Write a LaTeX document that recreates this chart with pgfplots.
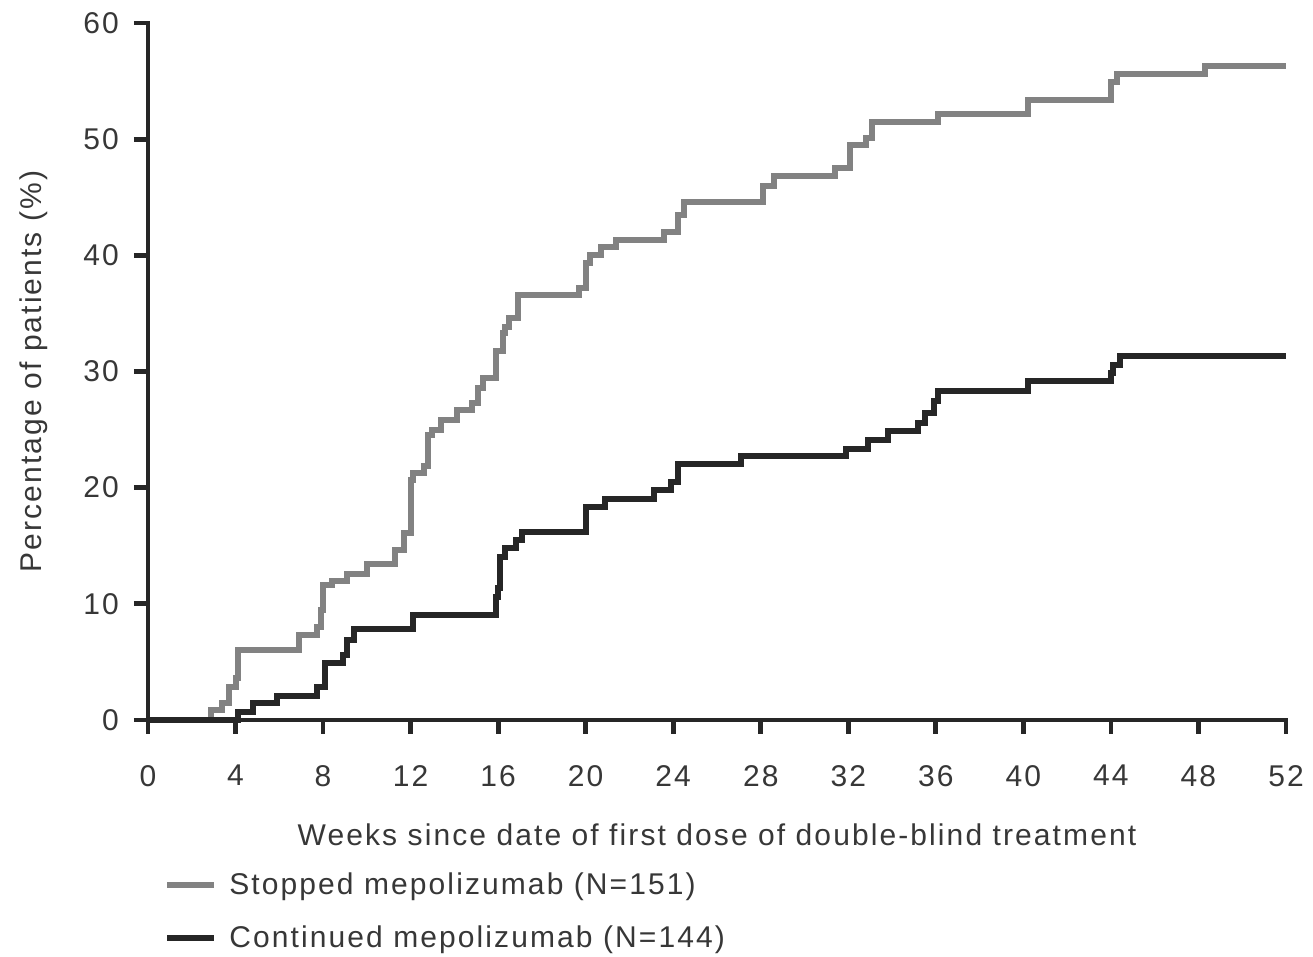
\documentclass[border=0pt]{standalone}
\usepackage{pgfplots}
\pgfplotsset{compat=1.18}
\usepackage{fontspec}
\setmainfont{Liberation Sans}[LetterSpace=7]
\usetikzlibrary{calc}
\definecolor{txt}{RGB}{55,55,55}
\definecolor{axc}{RGB}{38,38,38}
\definecolor{grayline}{RGB}{130,130,130}
\definecolor{blackline}{RGB}{38,38,38}
\begin{document}
\begin{tikzpicture}
\begin{axis}[
  name=ax,
  scale only axis,
  width=569pt, height=348.5pt,
  xmin=0, xmax=52, ymin=0, ymax=60,
  axis x line*=bottom, axis y line*=left,
  axis line style={line width=2.4pt, color=axc, line cap=rect},
  xtick={0,4,...,52}, ytick={0,10,...,60},
  tick align=outside,
  major tick length=7pt,
  tick style={line width=2.4pt, color=axc},
  tick label style={font=\fontsize{15}{18}\selectfont, color=txt},
  /pgf/number format/assume math mode=true,
  xticklabel style={yshift=-12pt},
  yticklabel style={xshift=-4pt},
  xlabel={Weeks since date of first dose of double-blind treatment},
  ylabel={Percentage of patients (\%)},
  label style={font=\fontsize{15}{18}\selectfont, color=txt},
  xlabel style={yshift=-12pt},
  ylabel style={yshift=11pt},
  clip=false,
  legend style={at={(0.0085,-0.207)}, anchor=north west, draw=none, fill=none,
    font=\fontsize{15}{18}\selectfont, text=txt, row sep=10pt,
    legend cell align=left},
  legend image code/.code={\draw[#1,const plot=false] (0cm,0cm) -- (0.83cm,0cm); \path (0.83cm+4pt,0cm);},
]
\addplot[const plot mark left, color=grayline, line width=3pt] coordinates {
(0,0) (2.9,0.9) (3.4,1.5) (3.7,2.8) (4.0,3.6) (4.1,6.0) (6.9,7.3) (7.7,8.0)
(7.9,9.5) (8.0,11.6) (8.4,12.0) (9.1,12.6) (10.0,13.4) (11.3,14.6) (11.7,16.1)
(12.0,20.7) (12.1,21.3) (12.6,21.9) (12.8,24.5) (13.0,25.0) (13.4,25.8)
(14.1,26.7) (14.8,27.3) (15.1,28.6) (15.3,29.4) (15.9,31.8) (16.2,33.3)
(16.3,33.8) (16.5,34.6) (16.9,36.6) (19.7,37.2) (20.0,39.3) (20.2,40.0)
(20.7,40.7) (21.4,41.3) (23.6,42.0) (24.2,43.5) (24.5,44.6) (28.1,46.0)
(28.6,46.8) (31.4,47.5) (32.1,49.5) (32.8,50.1) (33.1,51.5) (36.1,52.2)
(40.2,53.4) (44.0,54.9) (44.3,55.6) (48.3,56.3) (52,56.3)
};
\addlegendentry{Stopped mepolizumab (N=151)}
\addplot[const plot mark left, color=blackline, line width=3pt] coordinates {
(0,0) (4.1,0.7) (4.8,1.5) (5.9,2.1) (7.7,2.8) (8.1,4.9) (8.9,5.6) (9.1,6.9)
(9.4,7.8) (12.1,9.0) (15.9,10.6) (16.0,11.4) (16.1,14.0) (16.3,14.8)
(16.8,15.5) (17.1,16.2) (20.0,18.3) (20.9,19.0) (23.1,19.8) (23.9,20.5)
(24.2,22.0) (27.1,22.7) (31.9,23.3) (32.9,24.1) (33.8,24.9) (35.2,25.6)
(35.5,26.4) (35.9,27.5) (36.1,28.3) (40.2,29.2) (44.0,29.9) (44.1,30.6)
(44.4,31.3) (52,31.3)
};
\addlegendentry{Continued mepolizumab (N=144)}
\end{axis}
\pgfresetboundingbox
\path ($(ax.south west)+(-74pt,360pt)$) rectangle ($(ax.south west)+(582.5pt,-118.5pt)$);
\end{tikzpicture}
\end{document}
